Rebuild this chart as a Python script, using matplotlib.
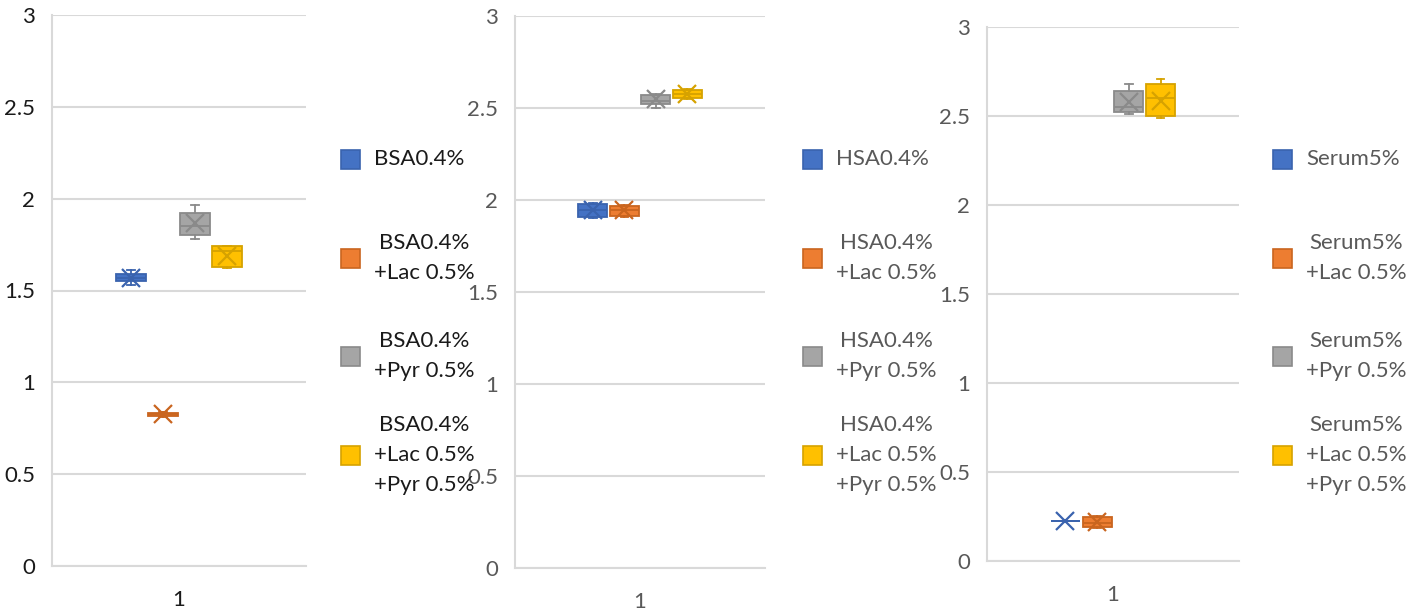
import matplotlib
matplotlib.use("Agg")
import matplotlib.pyplot as plt
from matplotlib.patches import Rectangle

plt.rcParams['font.family'] = ['Lato', 'DejaVu Sans']

# five-number summaries + mean per series: [low, q1, median, q3, high, mean]
bsa_labels = ["BSA0.4%", "BSA0.4%\n+Lac 0.5%", "BSA0.4%\n+Pyr 0.5%",
              "BSA0.4%\n+Lac 0.5%\n+Pyr 0.5%"]
bsa_stats = [
    [1.53, 1.55, 1.57, 1.59, 1.61, 1.570],
    [0.81, 0.815, 0.825, 0.835, 0.84, 0.827],
    [1.78, 1.80, 1.85, 1.92, 1.965, 1.865],
    [1.625, 1.63, 1.715, 1.745, 1.745, 1.690],
]

hsa_labels = ["HSA0.4%", "HSA0.4%\n+Lac 0.5%", "HSA0.4%\n+Pyr 0.5%",
              "HSA0.4%\n+Lac 0.5%\n+Pyr 0.5%"]
hsa_stats = [
    [1.90, 1.91, 1.945, 1.98, 1.985, 1.945],
    [1.91, 1.915, 1.945, 1.97, 1.975, 1.945],
    [2.50, 2.52, 2.54, 2.57, 2.575, 2.550],
    [2.55, 2.555, 2.575, 2.60, 2.605, 2.578],
]

serum_labels = ["Serum5%", "Serum5%\n+Lac 0.5%", "Serum5%\n+Pyr 0.5%",
                "Serum5%\n+Lac 0.5%\n+Pyr 0.5%"]
serum_stats = [
    [0.225, 0.225, 0.225, 0.225, 0.225, 0.225],
    [0.185, 0.19, 0.215, 0.245, 0.255, 0.218],
    [2.51, 2.525, 2.55, 2.64, 2.68, 2.580],
    [2.49, 2.50, 2.60, 2.68, 2.71, 2.585],
]

category = 1
y_ticks = [0, 0.5, 1, 1.5, 2, 2.5, 3]

fills = ['#4472C4', '#ED7D31', '#A5A5A5', '#FFC000']
edges = ['#3A63AE', '#C9651F', '#8A8A8A', '#D6A200']

W, H = 1409, 612
fig = plt.figure(figsize=(W / 100, H / 100), dpi=100)

# axes rectangles in pixels: left, top, right, bottom
panels = [
    (bsa_stats, bsa_labels, (52, 15, 306, 566), 341, '#1a1a1a'),
    (hsa_stats, hsa_labels, (515, 16, 765, 568), 803, '#595959'),
    (serum_stats, serum_labels, (987, 27, 1239, 561), 1273, '#595959'),
]
legend_y = [159, 258, 356, 455]

step = 0.126
offsets = [-1.5 * step, -0.5 * step, 0.5 * step, 1.5 * step]

for stats, labels, (l, t, r, b), leg_x, tcol in panels:
    ax = fig.add_axes([l / W, 1 - b / H, (r - l) / W, (b - t) / H])
    for i, s in enumerate(stats):
        d = dict(whislo=s[0], q1=s[1], med=s[2], q3=s[3], whishi=s[4],
                 mean=s[5], fliers=[])
        ax.bxp([d], positions=[category + offsets[i]], widths=0.115,
               capwidths=0.03, patch_artist=True, showmeans=True,
               boxprops=dict(facecolor=fills[i], edgecolor=edges[i], linewidth=1.3),
               medianprops=dict(color=edges[i], linewidth=1.3),
               whiskerprops=dict(color=edges[i], linewidth=1.3),
               capprops=dict(color=edges[i], linewidth=1.3),
               meanprops=dict(marker='x', markersize=13, markeredgewidth=1.6,
                              markeredgecolor=edges[i]),
               manage_ticks=False, zorder=3)
    ax.set_xlim(0.5, 1.5)
    ax.set_ylim(0, 3)
    ax.set_yticks(y_ticks)
    ax.set_yticklabels([f"{v:g}" for v in y_ticks])
    ax.set_xticks([category])
    ax.set_xticklabels([str(category)])
    ax.yaxis.grid(True, color='#D9D9D9', linewidth=1.5)
    ax.set_axisbelow(True)
    for side in ['top', 'right']:
        ax.spines[side].set_visible(False)
    for side in ['left', 'bottom']:
        ax.spines[side].set_color('#D9D9D9')
        ax.spines[side].set_linewidth(1.5)
    ax.tick_params(length=0, labelsize=16, labelcolor=tcol)
    ax.tick_params(axis='y', pad=12)
    ax.tick_params(axis='x', pad=17)

    # legend: colour square + centred multi-line label
    for i, lab in enumerate(labels):
        yc = legend_y[i]
        fig.patches.append(Rectangle(((leg_x) / W, 1 - (yc + 10) / H), 19 / W, 19 / H,
                                     transform=fig.transFigure, facecolor=fills[i],
                                     edgecolor=edges[i], linewidth=1.2))
        fig.text((leg_x + 33) / W, 1 - yc / H, lab, ha='left', va='center',
                 multialignment='center', fontsize=16, color=tcol, linespacing=1.6)

fig.savefig("out.png", dpi=100, facecolor='white')
